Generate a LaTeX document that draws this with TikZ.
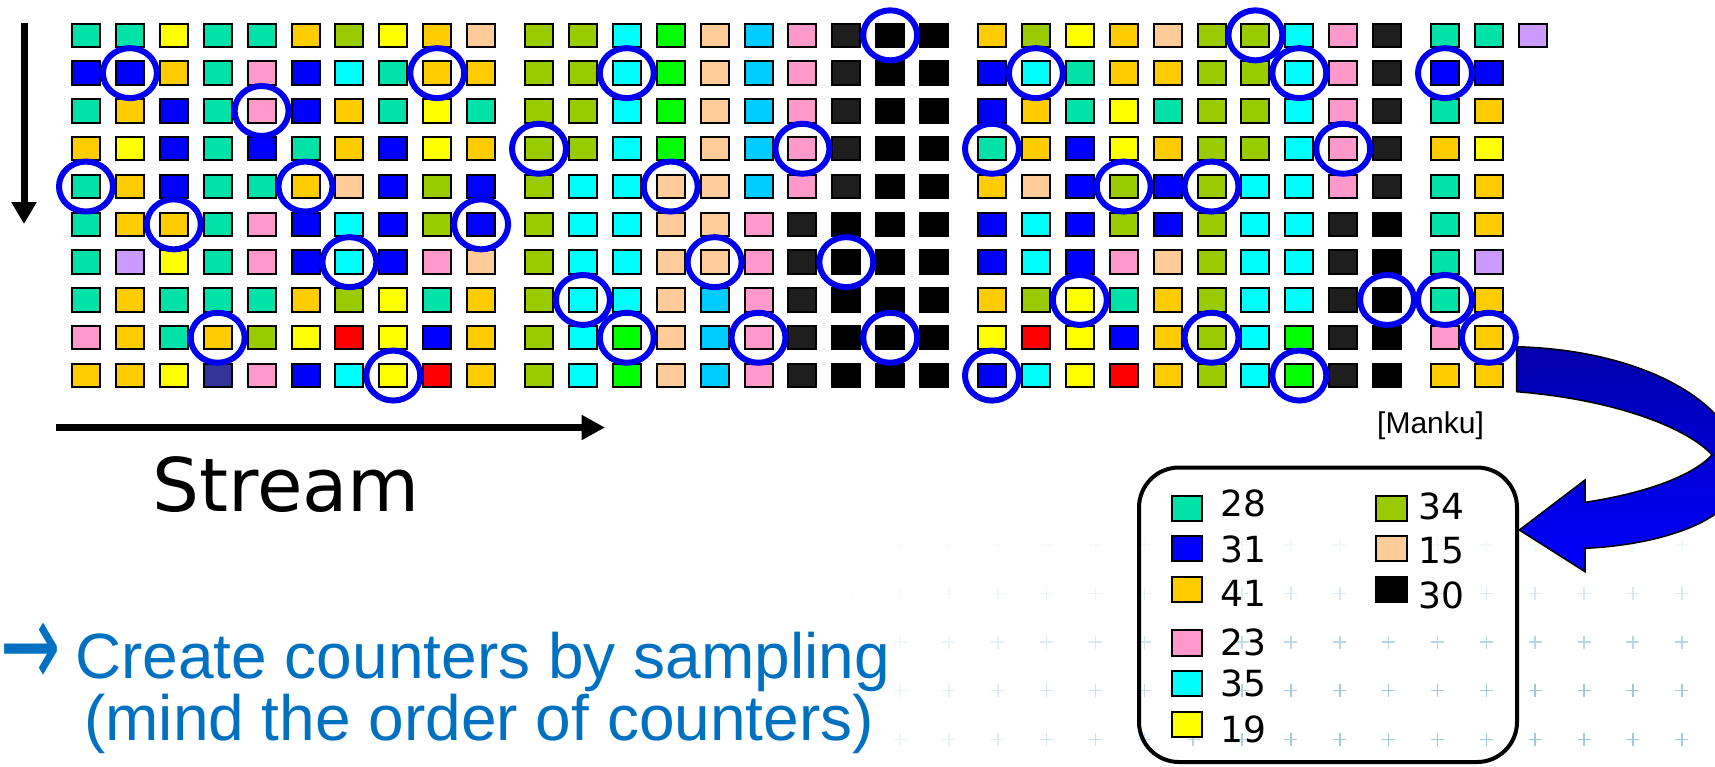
\documentclass[tikz,border=0pt]{standalone}
\usepackage{fontspec}
\setmainfont{Liberation Sans}
\newfontfamily\djv{DejaVu Sans}
\usetikzlibrary{arrows.meta,shapes.geometric}
\definecolor{cellT}{RGB}{0,226,168}
\definecolor{cellB}{RGB}{0,0,255}
\definecolor{cellG}{RGB}{255,204,0}
\definecolor{cellP}{RGB}{255,153,204}
\definecolor{cellC}{RGB}{0,255,255}
\definecolor{cellY}{RGB}{255,255,0}
\definecolor{cellO}{RGB}{153,204,0}
\definecolor{cellE}{RGB}{255,204,153}
\definecolor{cellK}{RGB}{0,0,0}
\definecolor{cellD}{RGB}{30,30,30}
\definecolor{cellV}{RGB}{204,153,255}
\definecolor{cellS}{RGB}{0,204,255}
\definecolor{cellN}{RGB}{0,255,0}
\definecolor{cellR}{RGB}{255,0,0}
\definecolor{cellQ}{RGB}{51,51,153}
\definecolor{ringblue}{RGB}{0,0,240}
\definecolor{textblue}{RGB}{0,112,192}
\definecolor{crossblue}{RGB}{160,200,225}
\definecolor{arrowdark}{RGB}{0,0,170}
\newcommand\gridblock[3]{%
  \foreach \rowdata [count=\rn] in {#3} {
    \foreach \cc [count=\cn] in \rowdata {
      \node[cell,fill=cell\cc] (#1-\rn-\cn) at ({#2+43.9*(\cn-1)},{35.35+37.8*(\rn-1)}) {};
    }
  }%
}
\begin{document}
\begin{tikzpicture}[x=1pt,y=-1pt,
  cell/.style={draw=black,line width=2pt,minimum width=28pt,minimum height=23.4pt,inner sep=0pt,outer sep=0pt},
  ring/.style={draw=ringblue,line width=6pt,ellipse,minimum width=54pt,minimum height=50pt,inner sep=0pt},
  lsq/.style={draw=black,line width=2pt,minimum width=30.6pt,minimum height=25.3pt,inner sep=0pt},
  num/.style={anchor=base west,inner sep=0pt,font=\djv\fontsize{36}{36}\selectfont},
  bigarrow/.style={line width=7pt,-{Triangle[width=24pt,length=22pt]}},
  bluetext/.style={anchor=base west,inner sep=0pt,text=textblue,font=\fontsize{64}{64}\selectfont}]
\useasboundingbox (0,0) rectangle (1715,766);
\clip (0,0) rectangle (1715,766);
\fill[white] (0,0) rectangle (1715,766);

% background crosses
\foreach \yy/\rf in {545/0.12,593.3/0.4,642/0.75,690.5/1,739.3/1} {
  \foreach \k in {-3,...,17} {
    \pgfmathsetmacro\xx{900+48.86*\k}
    \pgfmathsetmacro\op{\rf*min(1,max(0,(\xx-820)/500))}
    \draw[crossblue,line width=1.6pt,opacity=\op] ({\xx-6.5},\yy) -- ({\xx+6.5},\yy) (\xx,{\yy-6.5}) -- (\xx,{\yy+6.5});
  }
}

% grid blocks
\gridblock{a}{86}{{T,T,Y,T,T,G,O,Y,G,E},{B,B,G,T,P,B,C,T,G,G},{T,G,B,T,P,B,G,T,Y,T},{G,Y,B,T,B,T,G,B,Y,G},{T,G,B,T,T,G,E,B,O,B},{T,G,G,T,P,B,C,B,O,B},{T,V,Y,T,P,B,C,B,P,E},{T,G,T,T,T,G,O,Y,T,G},{P,G,T,G,O,Y,R,Y,B,G},{G,G,Y,Q,P,B,C,Y,R,G}}
\gridblock{b}{539}{{O,O,C,N,E,S,P,D,K,K},{O,O,C,N,E,S,P,D,K,K},{O,O,C,N,E,S,P,D,K,K},{O,O,C,N,E,S,P,D,K,K},{O,C,C,E,E,S,P,D,K,K},{O,C,C,E,E,P,D,K,K,K},{O,C,C,E,E,P,D,K,K,K},{O,C,C,E,S,P,D,K,K,K},{O,C,N,E,S,P,D,K,K,K},{O,C,N,E,S,P,D,K,K,K}}
\gridblock{c}{992}{{G,O,Y,G,E,O,O,C,P,D},{B,C,T,G,G,O,O,C,P,D},{B,G,T,Y,T,O,O,C,P,D},{T,G,B,Y,G,O,O,C,P,D},{G,E,B,O,B,O,C,C,P,D},{B,C,B,O,B,O,C,C,D,K},{B,C,B,P,E,O,C,C,D,K},{G,O,Y,T,G,O,C,C,D,K},{Y,R,Y,B,G,O,C,N,D,K},{B,C,Y,R,G,O,C,N,D,K}}
\gridblock{d}{1445}{{T,T,V},{B,B},{T,G},{G,Y},{T,G},{T,G},{T,V},{T,G},{P,G},{G,G}}

% big curved arrow
\shadedraw[top color=arrowdark,bottom color=blue,draw=black,line width=1.5pt]
  (1516.7,346.7) .. controls (1640,350) and (1735,400) .. (1742,468)
  .. controls (1745,520) and (1660,545) .. (1585,548.3)
  -- (1585,571.7) -- (1519.3,530) -- (1585,480) -- (1585,502.3)
  .. controls (1640,494) and (1690,478) .. (1712,455)
  .. controls (1690,430) and (1620,400) .. (1516.7,391.7) -- cycle;

% sampled counters (rings)
\foreach \nm in {a-2-2,a-2-9,a-3-5,a-5-1,a-5-6,a-6-3,a-6-10,a-7-7,a-9-4,a-10-8,
  b-1-9,b-2-3,b-4-1,b-4-7,b-5-4,b-7-5,b-7-8,b-8-2,b-9-3,b-9-6,b-9-9,
  c-1-7,c-2-2,c-2-8,c-4-1,c-4-9,c-5-4,c-5-6,c-8-3,c-8-10,c-9-6,c-10-1,c-10-8,
  d-2-1,d-8-1,d-9-2}
  \node[ring] (o-\nm) at (\nm) {};

% axes arrows
\coordinate (vtop) at (24,22.7);
\coordinate (vbot) at (24,224);
\draw[bigarrow] (vtop) -- (vbot);
\coordinate (hleft) at (55.7,427.5);
\coordinate (hright) at (605,427.5);
\draw[line width=7.5pt,-{Triangle[width=23.6pt,length=23.3pt]}] (hleft) -- (hright);

\node[anchor=base west,inner sep=0pt,font=\djv\fontsize{74}{74}\selectfont] (stream) at (152,511.7) {Stream};
\node[anchor=base west,inner sep=0pt,font=\fontsize{30}{30}\selectfont] (manku) at (1377,433) {[Manku]};

% legend
\node[draw=black,line width=4pt,rounded corners=40pt,minimum width=378pt,minimum height=294.5pt,inner sep=0pt] (legend) at (1328,614.75) {};
\node[lsq,fill=cellT] (l28) at (1187,508.7) {};
\node[lsq,fill=cellB] (l31) at (1187,548.8) {};
\node[lsq,fill=cellG] (l41) at (1187,589.5) {};
\node[lsq,fill=cellP] (l23) at (1187,643) {};
\node[lsq,fill=cellC] (l35) at (1187,683.8) {};
\node[lsq,fill=cellY] (l19) at (1187,724.3) {};
\node[lsq,fill=cellO] (l34) at (1391.2,508.7) {};
\node[lsq,fill=cellE] (l15) at (1391.2,548.8) {};
\node[fill=black,minimum width=32.6pt,minimum height=27.3pt,inner sep=0pt] (l30) at (1391.2,589.5) {};
\node[num] (t28) at (1220,516.7) {28};
\node[num] (t31) at (1220,562.3) {31};
\node[num] (t41) at (1220,606.7) {41};
\node[num] (t23) at (1220,655) {23};
\node[num] (t35) at (1220,696.7) {35};
\node[num] (t19) at (1220,742.7) {19};
\node[num] (t34) at (1418,519) {34};
\node[num] (t15) at (1418,563.3) {15};
\node[num] (t30) at (1418,608.3) {30};

% blue text
\node[inner sep=0pt,text=textblue] (arr) at (30.5,655.5) {\scalebox{1}[1.7]{\djv\fontsize{72}{72}\selectfont →}};
\node[bluetext] (line1) at (75,678) {Create counters by sampling};
\node[bluetext] (line2) at (84,740) {(mind the order of counters)};
\end{tikzpicture}
\end{document}
